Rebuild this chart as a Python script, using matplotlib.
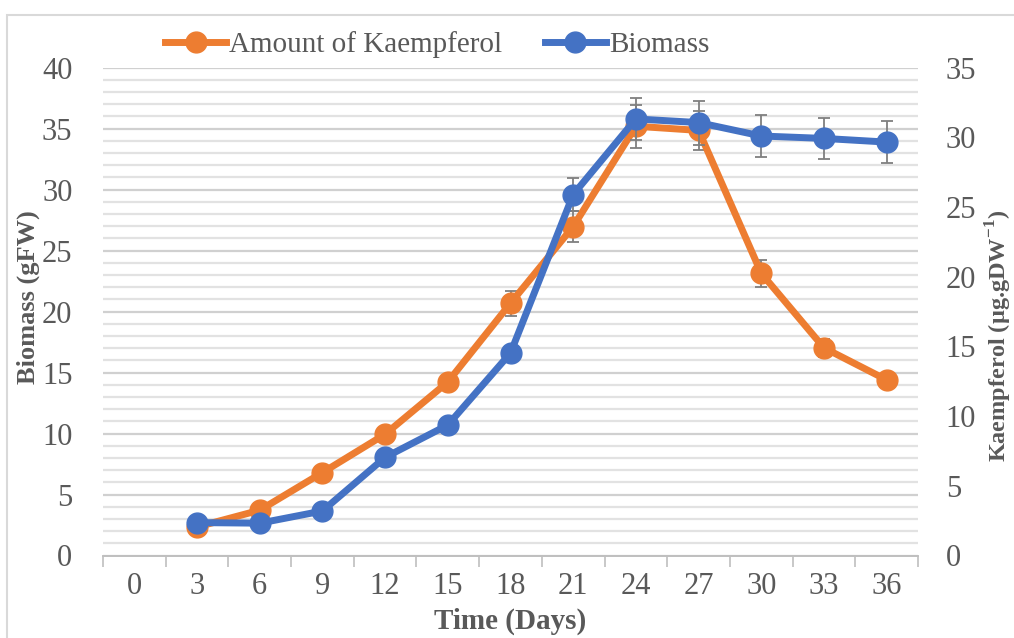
import matplotlib
matplotlib.use('Agg')
import matplotlib.pyplot as plt
from matplotlib.ticker import MultipleLocator, FixedLocator, NullFormatter
from matplotlib.patches import Rectangle

# data
days = [0, 3, 6, 9, 12, 15, 18, 21, 24, 27, 30, 33, 36]
sample_days = [3, 6, 9, 12, 15, 18, 21, 24, 27, 30, 33, 36]
biomass = [2.7, 2.65, 3.65, 8.05, 10.7, 16.6, 29.6, 35.8, 35.5, 34.4, 34.2, 33.9]
biomass_err = [0, 0, 0, 0, 0, 0, 1.35, 1.75, 1.8, 1.75, 1.7, 1.7]
kaempferol = [2.05, 3.25, 5.95, 8.7, 12.45, 18.1, 23.6, 30.8, 30.5, 20.25, 14.9, 12.6]
kaempferol_err = [0, 0, 0, 0, 0, 0.9, 1.1, 1.55, 1.4, 0.95, 0.65, 0]

orange = '#ED7D31'
blue = '#4472C4'
grey_txt = '#595959'

plt.rcParams['font.family'] = ['Liberation Serif', 'DejaVu Serif']

fig = plt.figure(figsize=(10.14, 6.38), dpi=100)
ax = fig.add_axes([103/1014, 1-555.5/638, (918-103)/1014, (555.5-67.7)/638])
ax2 = ax.twinx()

ax.set_xlim(-1.5, 37.5)
ax.set_ylim(0, 40)
ax2.set_ylim(0, 35)

# grid
ax.yaxis.set_major_locator(MultipleLocator(5))
ax.yaxis.set_minor_locator(MultipleLocator(1))
ax.grid(True, which='major', axis='y', color='#d0d0d0', lw=1.6)
ax.grid(True, which='minor', axis='y', color='#e2e2e2', lw=1.6)
ax.set_axisbelow(True)
ax2.yaxis.set_major_locator(MultipleLocator(5))

# kaempferol drawn in the lower axes using the right-hand scale so biomass stays on top
tr = ax2.transData
ax.errorbar(sample_days, kaempferol, yerr=kaempferol_err, fmt='none', ecolor='#7f7f7f',
            elinewidth=1.3, capsize=4, capthick=1.3, transform=tr, zorder=2)
ax.plot(sample_days, kaempferol, color=orange, lw=5, marker='o', ms=15,
        transform=tr, zorder=3, label='Amount of Kaempferol')
ax.errorbar(sample_days, biomass, yerr=biomass_err, fmt='none', ecolor='#7f7f7f',
            elinewidth=1.3, capsize=4, capthick=1.3, zorder=4)
ax.plot(sample_days, biomass, color=blue, lw=5, marker='o', ms=15, zorder=5, label='Biomass')

# category style x axis
ax.xaxis.set_major_locator(FixedLocator([d - 1.5 for d in days] + [days[-1] + 1.5]))
ax.xaxis.set_major_formatter(NullFormatter())
ax.xaxis.set_minor_locator(FixedLocator(days))
ax.set_xticklabels([str(d) for d in days], minor=True)
ax.tick_params(axis='x', which='major', length=8, width=1.2, color='#bfbfbf', direction='out')
ax.tick_params(axis='x', which='minor', length=0, pad=12, labelsize=22, labelcolor=grey_txt)
ax.tick_params(axis='y', which='both', length=0, pad=22, labelsize=22, labelcolor=grey_txt)
ax2.tick_params(axis='y', which='both', length=0, pad=20, labelsize=22, labelcolor=grey_txt)

for a in (ax, ax2):
    for s in ('top', 'left', 'right'):
        a.spines[s].set_visible(False)
    a.spines['bottom'].set_color('#bfbfbf')
    a.spines['bottom'].set_linewidth(1.2)

ax.set_xlabel('Time (Days)', fontsize=21, fontweight='bold', color=grey_txt, labelpad=5)
ax.set_ylabel('Biomass (gFW)', fontsize=19, fontweight='bold', color=grey_txt)
ax.yaxis.set_label_coords(-0.077, 0.529)
ax2.set_ylabel('Kaempferol (µg.gDW$^{\\mathregular{-1}}$)', fontsize=17.5, fontweight='bold',
               color=grey_txt, rotation=90)
ax2.yaxis.set_label_coords(1.08, 0.45)

leg = fig.legend(loc='center', bbox_to_anchor=(437/1014, 1-45/638), ncol=2, frameon=False,
                 fontsize=21, handlelength=2.1, handletextpad=0.1, columnspacing=1.45)
for t in leg.get_texts():
    t.set_color(grey_txt)

fig.patches.append(Rectangle((7/1014, -0.1), 1.1, 1-15/638 + 0.1, transform=fig.transFigure,
                             fill=False, edgecolor='#d9d9d9', lw=1.5))

fig.savefig('out.png', dpi=100)
